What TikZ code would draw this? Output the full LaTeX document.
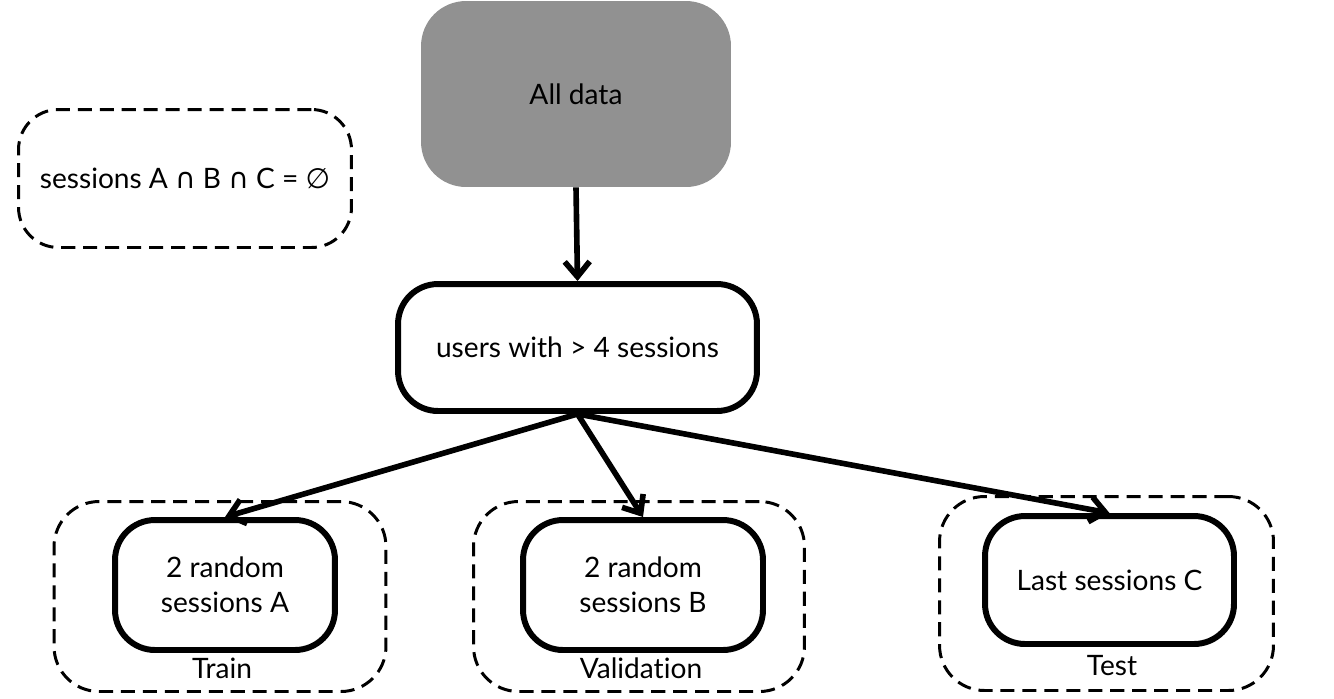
\documentclass[tikz,border=0pt]{standalone}
\usepackage{fontspec}
\setmainfont[Ligatures={NoCommon}]{Lato}
\newfontfamily\symfont{DejaVu Sans}
\usetikzlibrary{arrows.meta, positioning}
\definecolor{datagray}{HTML}{919191}

\begin{document}
\begin{tikzpicture}[x=0.02cm, y=-0.02cm,
      font=\fontsize{16}{20}\selectfont,
      source/.style={rectangle, fill=datagray, rounded corners=0.9cm, minimum width=6.2cm, minimum height=3.72cm},
      filter/.style={rectangle, draw, line width=3.4pt, rounded corners=0.8cm, minimum width=7.18cm, minimum height=2.54cm},
      subset/.style={rectangle, draw, line width=3.4pt, rounded corners=0.8cm, minimum height=2.6cm, align=center},
      split/.style={rectangle, draw, line width=1.7pt, dash pattern=on 8pt off 4.5pt, rounded corners=0.9cm, minimum height=3.8cm},
      flow/.style={-{Straight Barb[length=0.3cm, width=0.5cm]}, line width=3.2pt}]

      \useasboundingbox (0,0) rectangle (1334,698);

      \node[source] (all) at (576,94) {All data};
      \node[filter] (users) at (577.5,347.5) {users with > 4 sessions};
      \node[split, minimum width=6.66cm, minimum height=2.76cm, rounded corners=0.8cm] (note) at (185,178.5)
        {sessions A {\symfont ∩} B {\symfont ∩} C = {\symfont ∅}};

      % Splits
      \node[split, minimum width=6.64cm] (train) at (220,596.5) {};
      \node[split, minimum width=6.62cm] (val) at (639,596.5) {};
      \node[split, minimum width=6.68cm, minimum height=3.88cm] (test) at (1106.5,593.5) {};

      \node[subset, minimum width=4.4cm] (sessA) at (225,585) {2 random\\sessions A};
      \node[subset, minimum width=4.8cm] (sessB) at (643,585) {2 random\\sessions B};
      \node[subset, minimum width=4.98cm, minimum height=2.56cm] (sessC) at (1109.5,580) {Last sessions C};

      \node (trainlbl) at (222,668) {Train};
      \node (vallbl) at (641,668) {Validation};
      \node (testlbl) at (1112,666) {Test};

      % Arrows
      \draw[flow] (all.south) -- (users.north);
      \draw[flow] (users.south) -- (sessA.north);
      \draw[flow] (users.south) -- (sessB.north);
      \draw[flow] (users.south) -- (sessC.north);
\end{tikzpicture}
\end{document}
